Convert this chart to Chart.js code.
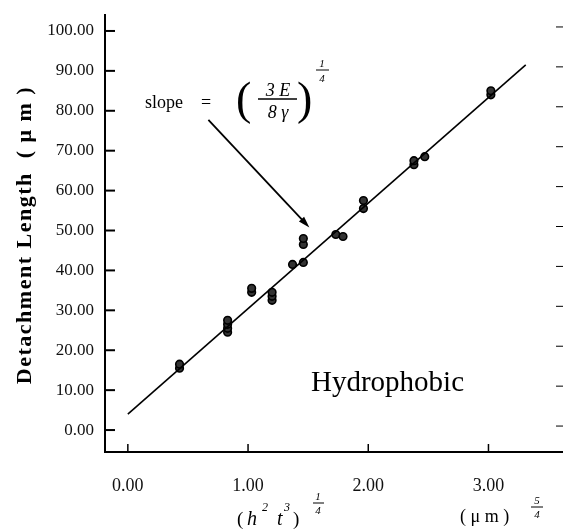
<!DOCTYPE html>
<html>
<head>
<meta charset="utf-8">
<script src="https://cdn.jsdelivr.net/npm/chart.js@4"></script>
<style>
  html,body{margin:0;padding:0;background:#fff;}
  #wrap{width:563px;height:529px;position:relative;}
</style>
</head>
<body>
<div id="wrap"><canvas id="chart" width="563" height="529"></canvas></div>
<script>
// tick values
const xTicks = [0, 1, 2, 3];
const yTicks = [0, 10, 20, 30, 40, 50, 60, 70, 80, 90, 100];

const sampleX = [0.43, 0.43, 0.83, 0.83, 0.83, 0.83, 1.03, 1.03, 1.20, 1.20, 1.20, 1.37, 1.46, 1.46, 1.46, 1.73, 1.79, 1.96, 1.96, 2.38, 2.38, 2.47, 3.02, 3.02];
const sampleY = [15.5, 16.5, 24.5, 25.5, 26.5, 27.5, 34.5, 35.5, 32.5, 33.5, 34.5, 41.5, 42.0, 46.5, 48.0, 49.0, 48.5, 55.5, 57.5, 66.5, 67.5, 68.5, 84.0, 85.0];

// fitted line ends
const fitX = [0, 3.31];
const fitY = [4, 91.5];

// arrow of the slope note, in data units
const arrowFrom = [0.67, 77.75];
const arrowTo = [1.51, 50.75];

const SERIF = '"Liberation Serif", "DejaVu Serif", serif';

const pts = sampleX.map((x, i) => ({ x, y: sampleY[i] }));
const line = fitX.map((x, i) => ({ x, y: fitY[i] }));

function txt(ctx, s, x, y, font, align){
  ctx.font = font;
  ctx.textAlign = align || 'left';
  ctx.fillText(s, x, y);
}
function bar(ctx, x1, x2, y, w){
  ctx.beginPath();
  ctx.lineWidth = w || 1.2;
  ctx.moveTo(x1, y); ctx.lineTo(x2, y);
  ctx.stroke();
}

const decor = {
  id: 'decor',
  afterDraw(chart){
    const { ctx, chartArea: a, scales: { x, y } } = chart;
    ctx.save();
    ctx.strokeStyle = '#000';
    ctx.fillStyle = '#000';

    // inward ticks
    ctx.lineWidth = 2;
    yTicks.forEach(v => {
      const py = y.getPixelForValue(v);
      ctx.beginPath(); ctx.moveTo(a.left, py); ctx.lineTo(a.left + 10, py); ctx.stroke();
    });
    ctx.lineWidth = 1;
    yTicks.forEach(v => {
      const py = y.getPixelForValue(v) - 4;
      ctx.beginPath(); ctx.moveTo(a.right - 7, py); ctx.lineTo(a.right, py); ctx.stroke();
    });
    ctx.lineWidth = 1.5;
    xTicks.forEach(v => {
      const px = x.getPixelForValue(v);
      ctx.beginPath(); ctx.moveTo(px, a.bottom); ctx.lineTo(px, a.bottom - 8); ctx.stroke();
    });

    // arrow
    const x0 = x.getPixelForValue(arrowFrom[0]), y0 = y.getPixelForValue(arrowFrom[1]);
    const x1 = x.getPixelForValue(arrowTo[0]), y1 = y.getPixelForValue(arrowTo[1]);
    const ang = Math.atan2(y1 - y0, x1 - x0);
    ctx.lineWidth = 1.8;
    ctx.beginPath(); ctx.moveTo(x0, y0); ctx.lineTo(x1 - 8 * Math.cos(ang), y1 - 8 * Math.sin(ang)); ctx.stroke();
    ctx.beginPath();
    ctx.moveTo(x1, y1);
    ctx.lineTo(x1 - 12 * Math.cos(ang - 0.3), y1 - 12 * Math.sin(ang - 0.3));
    ctx.lineTo(x1 - 12 * Math.cos(ang + 0.3), y1 - 12 * Math.sin(ang + 0.3));
    ctx.closePath(); ctx.fill();

    // slope = (3E / 8γ)^(1/4)
    ctx.textBaseline = 'alphabetic';
    txt(ctx, 'slope', 145, 108, '18px ' + SERIF);
    txt(ctx, '=', 201, 108, '18px ' + SERIF);
    txt(ctx, '(', 236, 114, '46px ' + SERIF);
    txt(ctx, '3 E', 278, 96, 'italic 18px ' + SERIF, 'center');
    bar(ctx, 258, 297, 99, 1.3);
    txt(ctx, '8 γ', 278, 118, 'italic 18px ' + SERIF, 'center');
    txt(ctx, ')', 297, 114, '46px ' + SERIF);
    txt(ctx, '1', 322, 67, 'italic 11px ' + SERIF, 'center');
    bar(ctx, 316, 329, 70, 1);
    txt(ctx, '4', 322, 82, 'italic 11px ' + SERIF, 'center');

    // Hydrophobic
    txt(ctx, 'Hydrophobic', 311, 391, '29px ' + SERIF);

    // x title
    txt(ctx, '(', 237, 525, '19px ' + SERIF);
    txt(ctx, 'h', 247, 525, 'italic 20px ' + SERIF);
    txt(ctx, '2', 262, 511, 'italic 12px ' + SERIF);
    txt(ctx, 't', 277, 525, 'italic 20px ' + SERIF);
    txt(ctx, '3', 284, 511, 'italic 12px ' + SERIF);
    txt(ctx, ')', 293, 525, '19px ' + SERIF);
    txt(ctx, '1', 318, 500, 'italic 11px ' + SERIF, 'center');
    bar(ctx, 313, 324, 503, 1);
    txt(ctx, '4', 318, 514, 'italic 11px ' + SERIF, 'center');
    txt(ctx, '( μ m )', 460, 522, '18px ' + SERIF);
    txt(ctx, '5', 537, 504, 'italic 11px ' + SERIF, 'center');
    bar(ctx, 531, 543, 507, 1);
    txt(ctx, '4', 537, 518, 'italic 11px ' + SERIF, 'center');

    // y title
    ctx.translate(25, 235);
    ctx.rotate(-Math.PI / 2);
    ctx.font = 'bold 22px ' + SERIF;
    ctx.letterSpacing = '1.5px';
    ctx.textAlign = 'center';
    ctx.textBaseline = 'middle';
    ctx.fillText('Detachment Length  ( μ m )', 0, 0);
    ctx.restore();
  }
};

new Chart(document.getElementById('chart'), {
  type: 'scatter',
  data: {
    datasets: [
      {
        type: 'line',
        data: line,
        borderColor: '#000',
        borderWidth: 1.6,
        pointRadius: 0,
        fill: false
      },
      {
        data: pts,
        pointStyle: 'circle',
        pointRadius: 3.8,
        borderColor: '#000',
        borderWidth: 1.6,
        backgroundColor: '#333'
      }
    ]
  },
  options: {
    responsive: false,
    animation: false,
    layout: { autoPadding: false, padding: { top: 15, right: 0, left: 0, bottom: 0 } },
    plugins: { legend: { display: false }, tooltip: { enabled: false } },
    scales: {
      x: {
        type: 'linear',
        min: -0.19,
        max: 3.62,
        grid: { display: false, drawTicks: false },
        border: { display: true, color: '#000', width: 2 },
        afterBuildTicks: s => { s.ticks = xTicks.map(v => ({ value: v })); },
        afterFit: s => { s.height = 77; s.paddingLeft = 0; s.paddingRight = 0; },
        ticks: {
          padding: 23,
          color: '#111',
          font: { family: SERIF, size: 18 },
          callback: v => Number(v).toFixed(2)
        }
      },
      y: {
        type: 'linear',
        min: -5.5,
        max: 104,
        grid: { display: false, drawTicks: false },
        border: { display: true, color: '#000', width: 2 },
        afterBuildTicks: s => { s.ticks = yTicks.map(v => ({ value: v })); },
        afterFit: s => { s.width = 105; s.paddingTop = 0; s.paddingBottom = 0; },
        ticks: {
          padding: 11,
          color: '#111',
          font: { family: SERIF, size: 17 },
          callback: v => Number(v).toFixed(2)
        }
      }
    }
  },
  plugins: [decor]
});
</script>
</body>
</html>
